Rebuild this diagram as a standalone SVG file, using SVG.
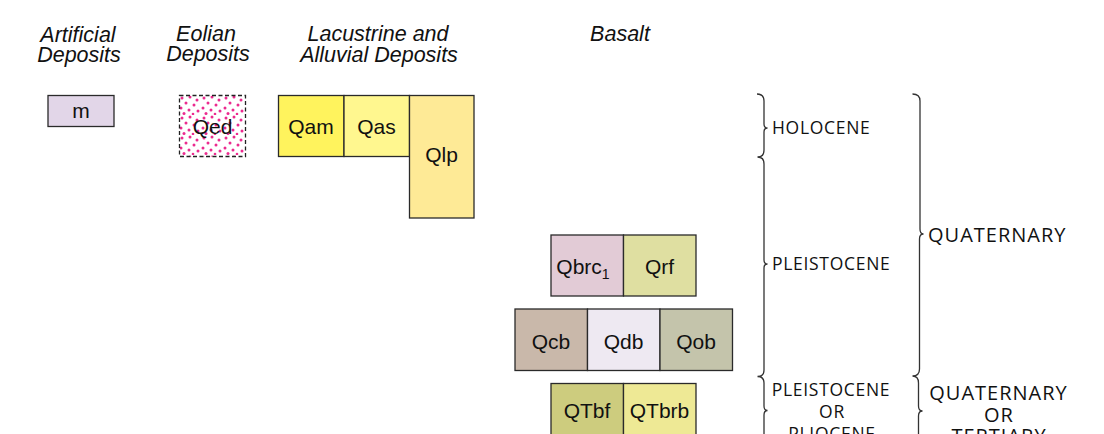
<svg xmlns="http://www.w3.org/2000/svg" width="1104" height="434" viewBox="0 0 1104 434">
<style>
.hdr{font-family:"Liberation Sans",Arial,sans-serif;font-style:italic;font-size:21.5px;fill:#111;text-anchor:middle}
.box{stroke:#2a2a2a;stroke-width:1.3}
.lbl{font-family:"Liberation Sans",Arial,sans-serif;font-size:21px;fill:#111;text-anchor:middle}
.age{font-family:"Open Sans","Noto Sans",sans-serif;font-size:17.5px;letter-spacing:0.7px;fill:#111}
.per{font-family:"Open Sans","Noto Sans",sans-serif;font-size:20px;letter-spacing:1px;fill:#111}
.brace{fill:none;stroke:#333;stroke-width:1.3}
</style>
<defs>
<pattern id="dots" patternUnits="userSpaceOnUse" x="179" y="95" width="22" height="20">
<rect width="22" height="20" fill="#fff"/>
<g fill="#ec2a8f">
<circle cx="3" cy="3" r="1.5"/><circle cx="11" cy="2" r="1.5"/><circle cx="18" cy="5" r="1.5"/>
<circle cx="7" cy="8" r="1.5"/><circle cx="15" cy="10" r="1.5"/><circle cx="2" cy="13" r="1.5"/>
<circle cx="10" cy="15" r="1.5"/><circle cx="19" cy="16" r="1.5"/><circle cx="5" cy="18.5" r="1.5"/>
<circle cx="14" cy="19" r="1.3"/>
</g>
</pattern>
</defs>
<rect width="1104" height="434" fill="#fff"/>
<g id="headers">
<text class="hdr" x="78" y="41.5">Artificial</text>
<text class="hdr" x="79" y="61.5">Deposits</text>
<text class="hdr" x="206" y="41">Eolian</text>
<text class="hdr" x="208" y="61">Deposits</text>
<text class="hdr" x="378" y="41">Lacustrine and</text>
<text class="hdr" x="379" y="61.5">Alluvial Deposits</text>
<text class="hdr" x="620" y="41">Basalt</text>
</g>
<g id="m"><rect class="box" x="48" y="95.5" width="66" height="31" fill="#e2d6e8"/><text class="lbl" x="81" y="118">m</text></g>
<g id="Qed"><rect x="179.5" y="95.5" width="66" height="61" fill="url(#dots)" stroke="#222" stroke-width="1.3" stroke-dasharray="4,2.5"/><text class="lbl" x="212.5" y="134">Qed</text></g>
<g id="Qam"><rect class="box" x="278.5" y="95.5" width="65.5" height="61" fill="#fff35d"/><text class="lbl" x="311" y="134">Qam</text></g>
<g id="Qas"><rect class="box" x="344" y="95.5" width="65.5" height="61" fill="#fff78f"/><text class="lbl" x="376.5" y="134">Qas</text></g>
<g id="Qlp"><rect class="box" x="409.5" y="95.5" width="64.5" height="122.5" fill="#feea96"/><text class="lbl" x="441.5" y="162">Qlp</text></g>
<g id="Qbrc1"><rect class="box" x="551" y="235" width="72.5" height="61" fill="#e2cbd6"/><text class="lbl" x="583" y="274">Qbrc<tspan font-size="14" dy="5">1</tspan></text></g>
<g id="Qrf"><rect class="box" x="623.5" y="235" width="72.5" height="61" fill="#dfdfa1"/><text class="lbl" x="659.5" y="274">Qrf</text></g>
<g id="Qcb"><rect class="box" x="515" y="309" width="72.5" height="61.5" fill="#c9b8aa"/><text class="lbl" x="551" y="349">Qcb</text></g>
<g id="Qdb"><rect class="box" x="587.5" y="309" width="72.5" height="61.5" fill="#eee9f2"/><text class="lbl" x="623.5" y="349">Qdb</text></g>
<g id="Qob"><rect class="box" x="660" y="309" width="72.5" height="61.5" fill="#c4c4ab"/><text class="lbl" x="696" y="349">Qob</text></g>
<g id="QTbf"><rect class="box" x="551" y="383.5" width="72.5" height="60" fill="#cdcc7e"/><text class="lbl" x="587" y="417.5">QTbf</text></g>
<g id="QTbrb"><rect class="box" x="623.5" y="383.5" width="72.5" height="60" fill="#eee995"/><text class="lbl" x="659.5" y="417.5">QTbrb</text></g>
<g id="braces">
<path class="brace" d="M757 94 Q764 94 764 101 L764 124 Q764 128 767.5 128 Q764 128 764 132 L764 150 Q764 157 757.5 157 Q764 157 764 164 L764 260 Q764 264 767.5 264 Q764 264 764 268 L764 370 Q764 376.5 757.5 376.5 Q764 376.5 764 383 L764 406 Q764 410.5 767.5 410.5 Q764 410.5 764 415 L764 440"/>
<path class="brace" d="M912.5 94 Q920 94 920 101 L920 229 Q920 234 923.5 234 Q919.5 234 919.5 239 L919.5 369 Q919.5 376 912.5 376 Q918.5 376 918.5 383 L918.5 406 Q918.5 411 922.5 411 Q918.5 411 918.5 416 L918.5 440"/>
</g>
<g id="ages">
<text class="age" x="772" y="134">HOLOCENE</text>
<text class="age" x="772" y="270">PLEISTOCENE</text>
<g text-anchor="middle"><text class="age" x="831" y="396">PLEISTOCENE</text><text class="age" x="832" y="418">OR</text><text class="age" x="832" y="440">PLIOCENE</text></g>
<text class="per" x="928" y="241.5">QUATERNARY</text>
<g text-anchor="middle"><text class="per" x="998.5" y="400">QUATERNARY</text><text class="per" x="999" y="421.5">OR</text><text class="per" x="999" y="443">TERTIARY</text></g>
</g>
</svg>
